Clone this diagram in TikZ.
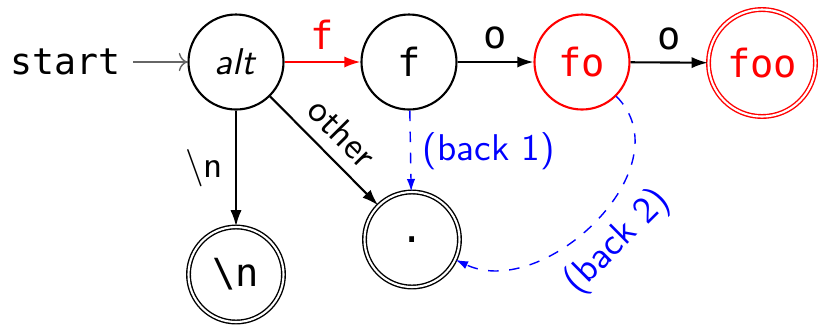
\documentclass[tikz,border=0pt]{standalone}
\usepackage{fontspec}
\setmonofont{DejaVu Sans Mono}[Scale=1.04]
\renewcommand{\familydefault}{\sfdefault}
\usetikzlibrary{arrows.meta}

\begin{document}
\begin{tikzpicture}[semithick,font=\fontsize{10.6}{12.5}\selectfont,
  stnode/.style={circle,draw,minimum size=0.95cm,inner sep=1pt},
  acc/.style={stnode,double,line width=0.4pt},
  edge/.style={-{Latex[length=4.6pt,width=3.2pt]}},
  back/.style={blue,dashed,thin,-{Latex[length=3.5pt,width=2.4pt]}}]
\useasboundingbox (0,0) rectangle (8.19,3.25);

% States
\node[font=\ttfamily] (start) at (0.655,2.63) {start};
\node[stnode] (alt) at (2.36,2.63) {\textit{alt}};
\node[stnode] (f) at (4.09,2.63) {\texttt{f}};
\node[stnode,red] (fo) at (5.82,2.63) {\texttt{fo}};
\node[acc,red,minimum size=1.07cm] (foo) at (7.62,2.62) {\texttt{foo}};
\node[acc] (nl) at (2.36,0.505) {\texttt{\textbackslash n}};
\node[acc] (dot) at (4.12,0.855) {\texttt{.}};

% Initial arrow
\draw[-To,thin,black!60] (start) -- (alt);

% Matching path
\draw[edge,red] (alt) -- node[above] {\texttt{f}} (f);
\draw[edge] (f) -- node[above] {\texttt{o}} (fo);
\draw[edge] (fo) -- node[above] {\texttt{o}} (foo);

% Other branches
\draw[edge] (alt) -- node[left] {\textbackslash n} (nl);
\draw[edge] (alt) -- node[above,sloped] {other} (dot);

% Back edges
\draw[back] (f) -- node[right] {(back 1)} (dot);
\draw[back] (fo) to[out=-45,in=-25,looseness=1.1]
  node[below,sloped,pos=0.5] {(back 2)} (dot);
\end{tikzpicture}
\end{document}
